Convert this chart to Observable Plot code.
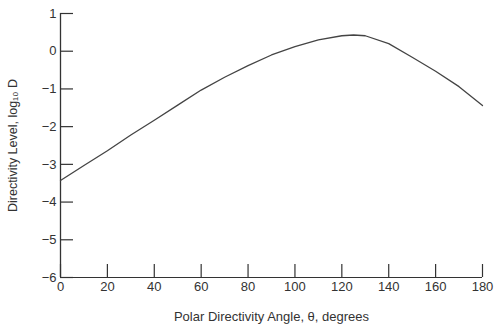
<!DOCTYPE html>
<html>
<head>
<meta charset="utf-8">
<script src="https://cdn.jsdelivr.net/npm/d3@7"></script>
<script src="https://cdn.jsdelivr.net/npm/@observablehq/plot@0.6"></script>
<style>
  html, body { margin: 0; padding: 0; background: #fff; }
  svg { display: block; }
</style>
</head>
<body>
<div id="chart"></div>
<script>
const angles = [0, 10, 20, 30, 40, 50, 60, 70, 80, 90, 100, 110, 120, 125, 130, 140, 150, 160, 170, 180];
const levels = [-3.43, -3.03, -2.64, -2.22, -1.83, -1.43, -1.03, -0.69, -0.38, -0.10, 0.12, 0.30, 0.41, 0.43, 0.41, 0.20, -0.16, -0.53, -0.94, -1.44];
const xTicks = [0, 20, 40, 60, 80, 100, 120, 140, 160, 180];
const yTicks = [1, 0, -1, -2, -3, -4, -5, -6];
const xLabel = "Polar Directivity Angle, \u03b8, degrees";
const yLabel = "Directivity Level, log\u2081\u2080 D";

const data = angles.map((a, i) => ({angle: a, level: levels[i]}));

const ink = "#333";
const chart = Plot.plot({
  width: 495,
  height: 325,
  marginLeft: 60,
  marginRight: 13,
  marginTop: 13,
  marginBottom: 48,
  style: {fontFamily: "Liberation Sans, Arial, sans-serif", fontSize: "13px", color: ink, background: "#fff"},
  x: {domain: [0, 180]},
  y: {domain: [-6, 1]},
  marks: [
    Plot.ruleX([0], {stroke: ink, strokeWidth: 1.3}),
    Plot.ruleY([-6], {stroke: ink, strokeWidth: 1.2}),
    Plot.axisY({ticks: yTicks, tickSize: -13, tickPadding: 17, stroke: ink, strokeWidth: 1.2,
      tickFormat: d => d < 0 ? "\u2212" + Math.abs(d) : String(d),
      label: null, fontSize: 13}),
    Plot.axisY({ticks: [], tickSize: 0, label: yLabel, labelAnchor: "center", labelArrow: "none", labelOffset: 52, fontSize: 12.5}),
    Plot.axisX({ticks: xTicks, tickSize: -13, tickPadding: 17, stroke: ink, strokeWidth: 1.2, label: null, fontSize: 13}),
    Plot.axisX({ticks: [], tickSize: 0, label: xLabel, labelAnchor: "center", labelArrow: "none", labelOffset: 43, fontSize: 13}),
    Plot.line(data, {x: "angle", y: "level", stroke: "#444", strokeWidth: 1.3})
  ]
});
document.getElementById("chart").append(chart);
</script>
</body>
</html>
